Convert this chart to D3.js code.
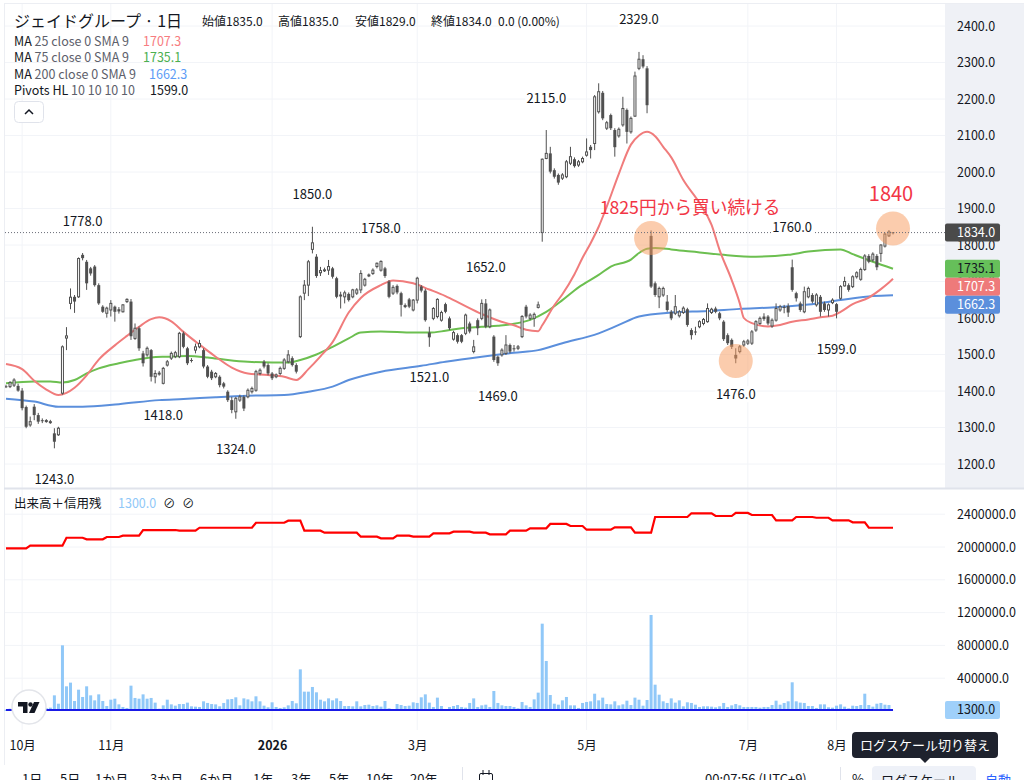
<!DOCTYPE html>
<html lang="ja">
<head>
<meta charset="utf-8">
<title>ジェイドグループ 1日</title>
<script src="https://cdn.jsdelivr.net/npm/d3@7"></script>
<style>
  body { margin: 0; background: #fff; }
  svg { display: block; font-family: "Noto Sans CJK JP", "Noto Sans", "DejaVu Sans", sans-serif; }
  .axis path, .axis line { display: none; }
  .axis text { font-size: 12.5px; fill: #131722; font-family: "Noto Sans CJK JP", "Noto Sans", sans-serif; }
</style>
</head>
<body>
<script>
// daily candles, oldest first (late Sep 2025 .. Aug 2026)
var opens = [
  1413,1412,1416,1414,1401,1356,1307,1357,1334,1320,
  1318,1316,1284,1280,1394,1545,1640,1658,1658,1773,
  1754,1736,1741,1690,1631,1613,1622,1631,1624,1617,
  1645,1645,1544,1572,1503,1499,1512,1439,1448,1421,
  1471,1490,1494,1494,1558,1517,1485,1512,1521,1512,
  1467,1453,1439,1439,1421,1398,1375,1343,1375,1384,
  1384,1398,1402,1448,1480,1471,1448,1439,1448,1462,
  1480,1490,1471,1549,1668,1690,1788,1768,1724,1731,
  1731,1736,1709,1662,1658,1666,1658,1668,1677,1690,
  1716,1722,1741,1731,1736,1700,1668,1688,1668,1633,
  1651,1622,1649,1686,1675,1560,1599,1604,1594,1638,
  1599,1542,1553,1553,1558,1585,1508,1594,1599,1640,
  1576,1549,1494,1499,1503,1526,1517,1517,1549,1631,
  1599,1599,1629,1834,2037,2051,2005,1992,1983,1987,
  2024,2035,2019,2028,2046,2069,2078,2165,2217,2120,
  2156,2115,2099,2129,2170,2110,2153,2284,2309,2284,
  1825,1695,1658,1663,1645,1617,1613,1606,1615,1624,
  1567,1563,1576,1585,1590,1615,1626,1613,1590,1553,
  1540,1499,1508,1526,1531,1531,1567,1585,1604,1604,
  1578,1594,1622,1630,1633,1739,1668,1640,1617,1658,
  1663,1636,1658,1640,1622,1642,1638,1654,1688,1690,
  1686,1713,1706,1733,1770,1759,1770,1777,1797,1825,
  1835
];
var highs = [
  1417,1427,1435,1420,1408,1360,1330,1364,1340,1325,
  1323,1321,1298,1302,1525,1575,1681,1663,1766,1778,
  1759,1740,1745,1695,1635,1631,1649,1634,1630,1638,
  1654,1652,1585,1577,1510,1522,1515,1457,1455,1466,
  1485,1508,1510,1562,1563,1521,1490,1530,1540,1517,
  1471,1458,1452,1443,1425,1402,1384,1384,1390,1388,
  1407,1412,1458,1462,1485,1476,1452,1448,1467,1490,
  1512,1495,1476,1662,1704,1759,1850,1775,1740,1738,
  1759,1740,1713,1672,1675,1670,1680,1682,1731,1710,
  1722,1736,1752,1758,1740,1704,1690,1692,1672,1640,
  1655,1652,1713,1690,1680,1576,1630,1654,1620,1642,
  1604,1565,1558,1556,1612,1590,1540,1599,1651,1652,
  1626,1553,1497,1517,1553,1530,1526,1526,1608,1636,
  1613,1615,1645,2037,2115,2069,2010,1996,1997,2033,
  2069,2040,2033,2042,2092,2074,2211,2243,2222,2140,
  2160,2120,2122,2206,2174,2152,2275,2329,2320,2290,
  1840,1700,1686,1686,1663,1622,1663,1622,1632,1628,
  1572,1576,1594,1600,1640,1628,1631,1617,1594,1558,
  1544,1517,1526,1540,1542,1567,1594,1604,1613,1608,
  1599,1640,1636,1636,1640,1760,1672,1645,1686,1686,
  1668,1668,1663,1645,1640,1654,1641,1690,1713,1695,
  1717,1728,1738,1775,1775,1780,1775,1802,1834,1841,
  1835
];
var lows = [
  1408,1408,1411,1398,1347,1298,1302,1320,1310,1312,
  1313,1310,1243,1277,1390,1512,1624,1614,1655,1758,
  1677,1716,1686,1636,1614,1601,1604,1590,1612,1615,
  1641,1540,1540,1510,1467,1494,1426,1421,1442,1418,
  1467,1485,1490,1490,1517,1471,1478,1503,1517,1462,
  1435,1430,1435,1410,1407,1370,1339,1324,1370,1345,
  1380,1393,1398,1443,1462,1443,1430,1435,1443,1458,
  1476,1467,1448,1545,1649,1660,1777,1710,1715,1726,
  1718,1708,1654,1626,1640,1645,1654,1663,1668,1686,
  1712,1718,1736,1727,1710,1654,1663,1665,1604,1627,
  1627,1618,1640,1670,1590,1521,1594,1599,1590,1613,
  1567,1538,1530,1531,1553,1558,1503,1553,1594,1572,
  1572,1480,1469,1494,1499,1503,1508,1512,1545,1599,
  1594,1576,1626,1809,2035,1996,1982,1965,1978,1983,
  2019,2012,2014,2024,2042,2037,2060,2160,2142,2115,
  2115,2042,2094,2124,2078,2105,2151,2279,2284,2161,
  1682,1658,1627,1658,1617,1594,1608,1601,1611,1576,
  1541,1553,1572,1580,1587,1611,1613,1594,1537,1526,
  1515,1476,1503,1521,1526,1526,1562,1581,1592,1580,
  1573,1590,1617,1613,1603,1672,1645,1617,1613,1654,
  1640,1631,1604,1617,1604,1638,1599,1650,1686,1672,
  1682,1708,1702,1729,1750,1754,1731,1754,1793,1822,
  1829
];
var closes = [
  1412,1423,1430,1401,1353,1302,1316,1334,1316,1318,
  1319,1316,1261,1298,1521,1551,1657,1645,1763,1764,
  1695,1722,1690,1640,1617,1627,1640,1617,1618,1636,
  1651,1550,1572,1517,1476,1517,1439,1448,1449,1462,
  1480,1503,1505,1558,1521,1476,1483,1521,1530,1467,
  1439,1435,1448,1416,1412,1375,1348,1380,1384,1352,
  1402,1407,1453,1457,1467,1448,1435,1444,1462,1485,
  1499,1471,1453,1658,1690,1754,1806,1715,1730,1732,
  1741,1713,1658,1663,1669,1649,1677,1677,1722,1706,
  1718,1731,1750,1755,1715,1658,1684,1670,1636,1634,
  1631,1649,1709,1675,1594,1547,1626,1651,1615,1617,
  1572,1560,1535,1535,1608,1563,1521,1572,1640,1576,
  1622,1485,1476,1512,1526,1508,1516,1521,1604,1604,
  1608,1610,1636,2035,2051,2001,1987,1971,1992,2028,
  2042,2016,2028,2037,2055,2060,2206,2220,2147,2135,
  2120,2068,2117,2174,2110,2147,2263,2309,2289,2183,
  1686,1663,1681,1681,1622,1599,1631,1617,1627,1581,
  1553,1562,1590,1596,1626,1624,1617,1599,1542,1531,
  1521,1489,1521,1535,1537,1562,1590,1599,1597,1585,
  1594,1626,1631,1629,1615,1677,1654,1622,1672,1681,
  1645,1663,1617,1622,1636,1649,1617,1686,1700,1677,
  1713,1724,1733,1770,1754,1775,1739,1800,1830,1836,
  1834
];
var volumes = [
  16000,28000,60000,45000,110000,150000,70000,90000,60000,40000,
  35000,41000,191000,89000,801000,301000,346000,122000,260000,171000,
  301000,191000,130000,203000,122000,61000,138000,150000,81000,49000,
  37000,309000,159000,150000,203000,150000,159000,102000,28000,69000,
  138000,81000,65000,85000,85000,102000,57000,53000,49000,118000,
  98000,85000,81000,57000,98000,142000,146000,167000,69000,154000,
  142000,118000,179000,118000,65000,45000,106000,49000,37000,45000,
  69000,122000,94000,508000,236000,236000,293000,228000,138000,118000,
  154000,130000,154000,122000,61000,61000,57000,118000,57000,73000,
  77000,61000,69000,53000,122000,33000,20000,85000,73000,61000,
  65000,106000,98000,167000,203000,102000,49000,163000,61000,24000,
  49000,61000,73000,49000,41000,98000,154000,49000,69000,77000,
  49000,244000,98000,69000,61000,61000,49000,33000,110000,69000,
  49000,142000,224000,1065000,610000,195000,89000,77000,130000,171000,
  69000,69000,37000,98000,110000,118000,211000,130000,163000,85000,
  81000,118000,69000,81000,126000,73000,163000,138000,65000,134000,
  1171000,321000,199000,118000,98000,154000,102000,130000,57000,106000,
  98000,77000,49000,57000,57000,53000,45000,57000,98000,49000,
  69000,85000,69000,49000,49000,49000,49000,41000,49000,49000,
  73000,126000,77000,98000,118000,350000,118000,102000,98000,61000,
  61000,37000,81000,81000,45000,41000,65000,81000,53000,33000,
  65000,61000,73000,211000,73000,53000,89000,98000,77000,73000,
  1300
];

// weekly margin balance (信用残), step series: start bar index + value
var marginStart = [0,6,15,20,25,29,34,43,48,62,70,74,79,88,93,97,101,106,111,116,
                   120,125,130,135,140,144,151,156,161,170,176,181,185,191,196,201,205,210,214];
var marginValue = [1984000,2016000,2113000,2094000,2122000,2138000,2207000,2199000,2235000,2296000,
                   2321000,2199000,2175000,2126000,2106000,2138000,2126000,2167000,2187000,2175000,
                   2155000,2200000,2228000,2281000,2256000,2211000,2240000,2175000,2366000,2411000,
                   2378000,2415000,2390000,2325000,2366000,2357000,2325000,2301000,2235000];
var shortStart = [0, 60, 120, 180];
var shortValue = [12000, 12000, 12000, 12000];

// moving averages (bar index, value)
var ma25Idx = [0,4,7,10,13,15,17,20,23,27,30,33,36,38,41,44,48,52,56,60,65,69,72,75,78,81,85,88,93,96,
               101,105,109,113,118,122,126,129,132,133,136,138,141,143,145,147,149,152,155,157,159,161,163,165,168,
               172,175,177,180,182,183,185,189,192,195,199,202,205,207,210,214,217,219,220];
var ma25Val = [1474,1460,1428,1404,1389,1395,1409,1443,1486,1525,1551,1576,1597,1602,1591,1562,1527,1494,1464,1448,
               1444,1439,1430,1460,1495,1534,1615,1655,1690,1703,1695,1678,1660,1638,1611,1593,1580,1568,1564,1580,
               1635,1665,1720,1765,1805,1850,1905,1995,2075,2100,2110,2098,2069,2040,1978,1915,1855,1786,1704,1640,
               1600,1586,1577,1581,1590,1596,1602,1606,1617,1638,1656,1679,1697,1707.3];
var ma75Idx = [0,7,11,14,17,20,23,28,32,36,40,45,50,55,60,66,70,73,77,81,85,88,93,101,105,109,113,118,122,126,
               130,134,138,142,147,150,155,157,159,161,165,170,178,186,194,199,207,210,215,220];
var ma75Val = [1421,1426,1426,1423,1430,1448,1462,1476,1485,1492,1494,1496,1492,1485,1480,1478,1478,1485,1500,1521,
               1544,1560,1563,1560,1560,1565,1572,1576,1579,1584,1595,1617,1649,1684,1718,1741,1760,1778,1790,1792,
               1788,1782,1773,1768,1773,1782,1788,1775,1754,1735.1];
var ma200Idx = [0,7,13,19,28,38,44,52,60,69,75,81,85,93,103,109,118,126,132,138,147,152,157,165,174,182,190,199,207,215,220];
var ma200Val = [1379,1371,1357,1357,1364,1375,1378,1383,1387,1389,1398,1412,1430,1453,1469,1480,1494,1505,1512,1531,
                1558,1581,1604,1615,1619,1625,1629,1637,1649,1660,1662.3];

// pivot high / low labels
var pivotIdx  = [12, 19, 39, 57, 76, 93, 105, 119, 122, 134, 157, 181, 195, 206];
var pivotKind = ["L","H","L","L","H","H","L","H","L","H","H","L","H","L"];

// axis ticks
var priceTicks = [1200,1300,1400,1500,1600,1700,1800,1900,2000,2100,2200,2300,2400];
var volTicks = [400000,800000,1200000,1600000,2000000,2400000];
var monthIdx = [4, 26, 66, 102, 144, 184, 206];
var monthLabels = ["10月","11月","2026","3月","5月","7月","8月"];

// hand-drawn marks on the chart (bar index, price)
var markIdx = [160, 181, 220];
var markPrice = [1819, 1482, 1845];

var N = closes.length;
var W = 1024, H = 780, plotR = 945;

var svg = d3.select("body").append("svg").attr("width", W).attr("height", H);

var x = d3.scaleLinear().domain([0, N - 1]).range([6, 893]);
var y = d3.scaleLinear().domain([1200, 2400]).range([464, 26]);
var yv = d3.scaleLinear().domain([0, 2400000]).range([711, 514.2]);

// backgrounds
svg.append("rect").attr("x", plotR).attr("y", 3).attr("width", W - plotR).attr("height", 485).attr("fill", "#eff1f6");
svg.append("line").attr("x1", 4).attr("x2", W).attr("y1", 3.5).attr("y2", 3.5).attr("stroke", "#eceef3");
svg.append("line").attr("x1", 4.5).attr("x2", 4.5).attr("y1", 3).attr("y2", 765).attr("stroke", "#eceef3");

// grid
var grid = svg.append("g");
grid.selectAll(".hg").data(priceTicks).enter().append("line")
  .attr("x1", 5).attr("x2", plotR).attr("y1", function(d) { return y(d); }).attr("y2", function(d) { return y(d); })
  .attr("stroke", "#f2f4f8");
grid.selectAll(".vg").data(volTicks).enter().append("line")
  .attr("x1", 5).attr("x2", plotR).attr("y1", function(d) { return yv(d); }).attr("y2", function(d) { return yv(d); })
  .attr("stroke", "#f2f4f8");
grid.selectAll(".mg").data(monthIdx).enter().append("line")
  .attr("x1", function(d) { return x(d); }).attr("x2", function(d) { return x(d); })
  .attr("y1", 4).attr("y2", 730).attr("stroke", "#f2f4f8");

// pane separator
svg.append("line").attr("x1", 4).attr("x2", W).attr("y1", 488.5).attr("y2", 488.5)
  .attr("stroke", "#e0e3eb").attr("stroke-width", 2);

svg.append("clipPath").attr("id", "price-area").append("rect")
  .attr("x", 5).attr("y", 4).attr("width", plotR - 5).attr("height", 483);

var pane = svg.append("g").attr("clip-path", "url(#price-area)");

// moving averages
var maLine = d3.line().curve(d3.curveMonotoneX)
  .x(function(d) { return x(d[0]); }).y(function(d) { return y(d[1]); });
function pairs(idx, val) { return idx.map(function(d, i) { return [d, val[i]]; }); }

pane.append("path").datum(pairs(ma200Idx, ma200Val)).attr("d", maLine)
  .attr("fill", "none").attr("stroke", "#5b8fdc").attr("stroke-width", 2);
pane.append("path").datum(pairs(ma75Idx, ma75Val)).attr("d", maLine)
  .attr("fill", "none").attr("stroke", "#6cbf50").attr("stroke-width", 2);
pane.append("path").datum(pairs(ma25Idx, ma25Val)).attr("d", maLine)
  .attr("fill", "none").attr("stroke", "#f07c7c").attr("stroke-width", 2);

// candles
var candle = pane.selectAll(".candle").data(d3.range(N)).enter().append("g");
candle.append("line")
  .attr("x1", function(i) { return x(i); }).attr("x2", function(i) { return x(i); })
  .attr("y1", function(i) { return y(highs[i]); }).attr("y2", function(i) { return y(lows[i]); })
  .attr("stroke", "#505050").attr("stroke-width", 1);
candle.append("rect")
  .attr("x", function(i) { return closes[i] >= opens[i] ? x(i) - 1 : x(i) - 1.5; })
  .attr("width", function(i) { return closes[i] >= opens[i] ? 2 : 3; })
  .attr("y", function(i) { return y(Math.max(opens[i], closes[i])); })
  .attr("height", function(i) { return Math.max(1, Math.abs(y(opens[i]) - y(closes[i]))); })
  .attr("fill", function(i) { return closes[i] >= opens[i] ? "#ffffff" : "#505050"; })
  .attr("stroke", function(i) { return closes[i] >= opens[i] ? "#505050" : "none"; })
  .attr("stroke-width", 1);

// last price dotted line
svg.append("line").attr("x1", 5).attr("x2", plotR)
  .attr("y1", y(closes[N - 1])).attr("y2", y(closes[N - 1]))
  .attr("stroke", "#6a6d78").attr("stroke-width", 1).attr("stroke-dasharray", "1,2");

// orange marks
pane.selectAll(".mark").data(markIdx).enter().append("circle")
  .attr("cx", function(d) { return x(d); })
  .attr("cy", function(d, i) { return y(markPrice[i]); })
  .attr("r", 17).attr("fill", "#f79a5c").attr("fill-opacity", 0.5);

// pivot labels
var piv = svg.append("g");
pivotIdx.forEach(function(d, k) {
  var isHigh = pivotKind[k] === "H";
  var v = isHigh ? highs[d] : lows[d];
  var cy = isHigh ? y(v) - 32 : y(v) + 31;
  var t = v.toFixed(1);
  piv.append("rect").attr("x", x(d) - 21).attr("y", cy - 8).attr("width", 42).attr("height", 16).attr("fill", "#fff");
  piv.append("text").attr("x", x(d)).attr("y", cy + 4.5).attr("text-anchor", "middle")
    .attr("font-size", "13px").attr("fill", "#131722").text(t);
});

// red annotations
svg.append("text").attr("x", x(147) + 1).attr("y", 214).attr("font-size", "17.7px").attr("fill", "#f23645")
  .text("1825円から買い続ける");
svg.append("text").attr("x", x(220) - 2).attr("y", 201).attr("text-anchor", "middle")
  .attr("font-size", "20px").attr("fill", "#f23645").text("1840");

// volume pane
var vol = svg.append("g");
vol.selectAll(".vb").data(volumes).enter().append("rect")
  .attr("x", function(d, i) { return x(i) - 1.5; }).attr("width", 3)
  .attr("y", function(d) { return yv(d); })
  .attr("height", function(d) { return Math.max(0, yv(0) - yv(d)); })
  .attr("fill", "#90c8f8");

function stepPoints(starts, vals) {
  var pts = [];
  starts.forEach(function(s, k) {
    var e = k < starts.length - 1 ? starts[k + 1] - 1 : N - 1;
    pts.push([s, vals[k]], [e, vals[k]]);
  });
  return pts;
}
var volLine = d3.line().x(function(d) { return x(d[0]); }).y(function(d) { return yv(d[1]); });
vol.append("path").datum(stepPoints(marginStart, marginValue)).attr("d", volLine)
  .attr("fill", "none").attr("stroke", "#ff0000").attr("stroke-width", 2.2);
vol.append("path").datum(stepPoints(shortStart, shortValue)).attr("d", volLine)
  .attr("fill", "none").attr("stroke", "#1a1ae6").attr("stroke-width", 2.2);

// TradingView badge
var logo = svg.append("g").attr("transform", "translate(29,707)");
logo.append("circle").attr("r", 17).attr("fill", "#fff").attr("stroke", "#e3e5ea").attr("stroke-width", 1.5);
logo.append("path").attr("d", "M-11,-5 h9.5 v11 h-4.5 v-6.5 h-5 z").attr("fill", "#131722");
logo.append("circle").attr("cx", 1.5).attr("cy", -2.5).attr("r", 2.2).attr("fill", "#131722");
logo.append("path").attr("d", "M5,-5 h5.5 l-5,11 h-5.5 z").attr("fill", "#131722");

// price axis
var yAxis = d3.axisRight(y).tickValues(priceTicks).tickFormat(d3.format(".1f")).tickSize(0).tickPadding(12);
svg.append("g").attr("class", "axis").attr("transform", "translate(" + plotR + ",0)").call(yAxis);

var vAxis = d3.axisRight(yv).tickValues(volTicks).tickFormat(d3.format(".1f")).tickSize(0).tickPadding(12);
svg.append("g").attr("class", "axis").attr("transform", "translate(" + plotR + ",0)").call(vAxis);

var xAxis = d3.axisBottom(x).tickValues(monthIdx)
  .tickFormat(function(d, i) { return monthLabels[i]; }).tickSize(0).tickPadding(10);
svg.append("g").attr("class", "axis").attr("transform", "translate(0,731)").call(xAxis)
  .selectAll("text").attr("font-weight", function(d, i) { return monthLabels[i] === "2026" ? "bold" : null; });

// last value tags
function tag(cy, txt, bg, fg) {
  svg.append("rect").attr("x", plotR).attr("y", cy - 9).attr("width", 55).attr("height", 18)
    .attr("rx", 2).attr("fill", bg);
  svg.append("text").attr("x", 957).attr("y", cy + 4.5).attr("font-size", "12.5px").attr("fill", fg).text(txt);
}
tag(y(closes[N - 1]), closes[N - 1].toFixed(1), "#4a4a4a", "#ffffff");
var maTags = [
  { v: ma75Val[ma75Val.length - 1], bg: "#66bf5a", fg: "#131722" },
  { v: ma25Val[ma25Val.length - 1], bg: "#ee7a7a", fg: "#ffffff" },
  { v: ma200Val[ma200Val.length - 1], bg: "#5b8fdc", fg: "#ffffff" }
];
maTags.sort(function(a, b) { return b.v - a.v; });
var lastY = -100;
maTags.forEach(function(t) {
  var cy = Math.max(y(t.v), lastY + 18);
  tag(cy, t.v.toFixed(1), t.bg, t.fg);
  lastY = cy;
});
tag(yv(volumes[N - 1]) - 1, volumes[N - 1].toFixed(1), "#9fd0fa", "#131722");

// legend
var leg = svg.append("g").attr("fill", "#131722");
leg.append("text").attr("x", 14).attr("y", 27).attr("font-size", "16px").text("ジェイドグループ · 1日");
var ohlcText = [
  "始値" + opens[N - 1].toFixed(1), "高値" + highs[N - 1].toFixed(1),
  "安値" + lows[N - 1].toFixed(1), "終値" + closes[N - 1].toFixed(1), "0.0 (0.00%)"
];
var ohlcX = [202, 278, 355, 431, 498];
ohlcText.forEach(function(t, i) {
  leg.append("text").attr("x", ohlcX[i]).attr("y", 26).attr("font-size", "12px").text(t);
});

var rows = [
  ["MA", " 25 close 0 SMA 9", ma25Val[ma25Val.length - 1].toFixed(1), "#f77c80", 143],
  ["MA", " 75 close 0 SMA 9", ma75Val[ma75Val.length - 1].toFixed(1), "#4caf50", 143],
  ["MA", " 200 close 0 SMA 9", ma200Val[ma200Val.length - 1].toFixed(1), "#5b9cf6", 149],
  ["Pivots HL", " 10 10 10 10", lows[206].toFixed(1), "#131722", 150]
];
rows.forEach(function(r, k) {
  var ty = 46 + k * 16.3;
  var t = leg.append("text").attr("x", 14).attr("y", ty).attr("font-size", "12.5px");
  t.append("tspan").attr("fill", "#131722").text(r[0]);
  t.append("tspan").attr("fill", "#5d606b").text(r[1]);
  leg.append("text").attr("x", r[4]).attr("y", ty).attr("font-size", "12.5px").attr("fill", r[3]).text(r[2]);
});
leg.append("rect").attr("x", 14.5).attr("y", 101.5).attr("width", 29).attr("height", 21).attr("rx", 4)
  .attr("fill", "#fff").attr("stroke", "#e0e3eb");
leg.append("path").attr("d", "M25,114 l4,-4 l4,4").attr("fill", "none").attr("stroke", "#131722").attr("stroke-width", 1.5);

var vleg = svg.append("text").attr("x", 14).attr("y", 508).attr("font-size", "12.5px");
vleg.append("tspan").attr("fill", "#131722").text("出来高＋信用残");
vleg.append("tspan").attr("x", 118).attr("fill", "#90c8f8").text(volumes[N - 1].toFixed(1));
vleg.append("tspan").attr("x", 163).attr("fill", "#131722").text("⊘");
vleg.append("tspan").attr("x", 182).attr("fill", "#131722").text("⊘");

// tooltip
svg.append("rect").attr("x", 852).attr("y", 732).attr("width", 146).attr("height", 26).attr("rx", 4).attr("fill", "#1e222d");
svg.append("path").attr("d", "M920,758 L925,763 L930,758 Z").attr("fill", "#1e222d");
svg.append("text").attr("x", 860).attr("y", 750).attr("font-size", "13px").attr("fill", "#ffffff").text("ログスケール切り替え");

// bottom toolbar (cut by the window)
var ranges = ["1日","5日","1か月","3か月","6か月","1年","3年","5年","10年","20年"];
var rangeX = [22, 60, 95, 150, 200, 253, 291, 329, 366, 410];
svg.selectAll(".rng").data(ranges).enter().append("text")
  .attr("x", function(d, i) { return rangeX[i]; }).attr("y", 784).attr("font-size", "13px").attr("fill", "#131722")
  .text(function(d) { return d; });
svg.append("line").attr("x1", 462.5).attr("x2", 462.5).attr("y1", 767).attr("y2", 780).attr("stroke", "#e0e3eb");
svg.append("rect").attr("x", 479.5).attr("y", 773.5).attr("width", 13).attr("height", 10).attr("rx", 1.5)
  .attr("fill", "none").attr("stroke", "#131722");
svg.append("line").attr("x1", 483).attr("x2", 483).attr("y1", 770).attr("y2", 775).attr("stroke", "#131722");
svg.append("line").attr("x1", 489).attr("x2", 489).attr("y1", 770).attr("y2", 775).attr("stroke", "#131722");
svg.append("text").attr("x", 705).attr("y", 784).attr("font-size", "13px").attr("fill", "#131722").text("00:07:56 (UTC+9)");
svg.append("line").attr("x1", 840.5).attr("x2", 840.5).attr("y1", 767).attr("y2", 780).attr("stroke", "#e0e3eb");
svg.append("text").attr("x", 852).attr("y", 784).attr("font-size", "13px").attr("fill", "#131722").text("%");
svg.append("rect").attr("x", 872).attr("y", 766).attr("width", 104).attr("height", 22).attr("rx", 4).attr("fill", "#eef1f8");
svg.append("text").attr("x", 881).attr("y", 785).attr("font-size", "13px").attr("fill", "#131722").text("ログスケール");
svg.append("text").attr("x", 985).attr("y", 785).attr("font-size", "13px").attr("fill", "#2962ff").text("自動");
</script>
</body>
</html>
